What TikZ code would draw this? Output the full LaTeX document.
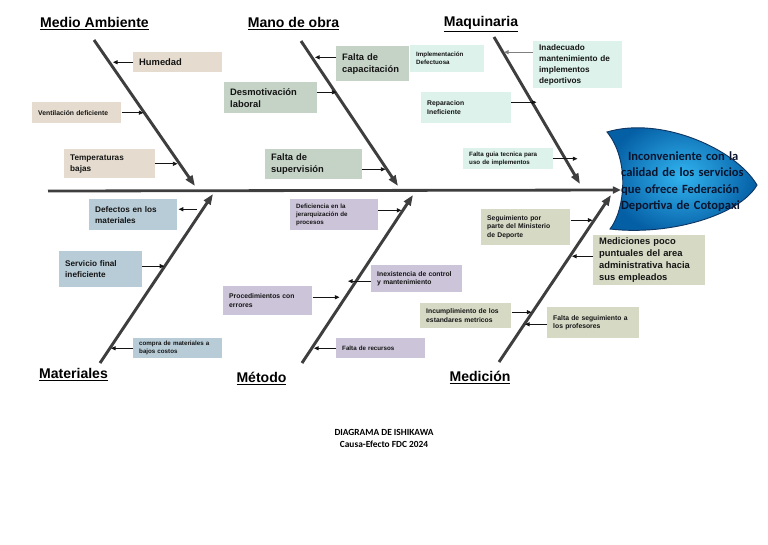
\documentclass[tikz,border=0pt]{standalone}
\usepackage{fontspec}
\setmainfont{Liberation Sans}
\newfontfamily\calibri{Carlito}
\usetikzlibrary{arrows.meta, positioning}
\definecolor{cTan}{RGB}{229,220,207}
\definecolor{cSage}{RGB}{197,211,199}
\definecolor{cMint}{RGB}{220,242,234}
\definecolor{cSteel}{RGB}{184,204,215}
\definecolor{cLav}{RGB}{204,196,216}
\definecolor{cOlive}{RGB}{214,218,197}
\definecolor{cBone}{RGB}{62,62,62}
\definecolor{cHeadIn}{RGB}{50,180,240}
\definecolor{cHeadOut}{RGB}{5,95,165}
\definecolor{cHeadRim}{RGB}{15,55,100}
\definecolor{cInk}{RGB}{20,20,20}
\definecolor{cNavy}{RGB}{10,20,45}
\tikzset{
	catlbl/.style ={font=\fontsize{12}{14}\selectfont\bfseries},
	bone/.style   ={line width=2.5pt, cBone, -{Triangle[length=9pt, width=6.5pt]}},
	spine/.style  ={line width=2.4pt, cBone, -{Triangle[length=7pt, width=6pt]}},
	cause/.style  ={rectangle, anchor=north west, inner xsep=5.1pt, inner ysep=0pt, align=left, text=cInk},
	carr/.style   ={line width=0.8pt, cInk, -{Triangle[length=4pt, width=3.5pt]}},
	carrb/.style  ={line width=0.8pt, cInk, {Triangle[length=4pt, width=3.5pt]}-},
	% text sizes of the boxes
	fb/.style     ={font=\fontsize{8}{10.2}\selectfont\bfseries},
	fm/.style     ={font=\fontsize{7}{9.2}\selectfont\bfseries},
	fs/.style     ={font=\fontsize{5.8}{7.6}\selectfont\bfseries},
	ft/.style     ={font=\fontsize{5.3}{6.8}\selectfont\bfseries},
}
\begin{document}
\begin{tikzpicture}[x=0.8536pt, y=-0.8536pt]
\useasboundingbox (0,0) rectangle (768,544);
% head of the fish
\shade[inner color=cHeadIn, outer color=cHeadOut, draw=cHeadRim, line width=0.8pt]
	(607,132) .. controls (660,116) and (735,148) .. (757,185)
	.. controls (740,215) and (670,236) .. (610,229)
	.. controls (625,210) and (630,160) .. (607,132) -- cycle;
\node[font=\calibri\fontsize{10.7}{13.9}\selectfont\bfseries, text=cNavy, text width=104pt, align=left, inner sep=0pt] (eff) at (682,181.5)
	{\makebox[104pt][r]{\makebox[98pt][s]{Inconveniente con la}}\\ \makebox[104pt][s]{calidad de los servicios}\\ \makebox[104pt][s]{que ofrece Federación}\\ \mbox{Deportiva de Cotopaxi}};
% spine and bones
\coordinate (spL) at (48,191);
\coordinate (spR) at (621,190);
\draw[spine] (spL) -- (spR);
\coordinate (maTop) at (94,40);   \coordinate (maEnd) at (195,186);
\coordinate (moTop) at (301,41);  \coordinate (moEnd) at (398,186);
\coordinate (mqTop) at (494,37);  \coordinate (mqEnd) at (580,184);
\coordinate (mtBot) at (100,363); \coordinate (mtEnd) at (213,194);
\coordinate (meBot) at (302,363); \coordinate (meEnd) at (413,195);
\coordinate (mdBot) at (499,362); \coordinate (mdEnd) at (611,195);
\foreach \a/\b in {maTop/maEnd, moTop/moEnd, mqTop/mqEnd, mtBot/mtEnd, meBot/meEnd, mdBot/mdEnd}
	\draw[bone] (\a) -- (\b);
% category titles
\node[catlbl] (tMA) at (94.5,24) {\underline{Medio Ambiente}};
\node[catlbl] (tMO) at (293.5,24) {\underline{Mano de obra}};
\node[catlbl] (tMQ) at (481,24) {\underline{Maquinaria}};
\node[catlbl] (tMT) at (73.5,375) {\underline{Materiales}};
\node[catlbl] (tME) at (261.5,379) {\underline{Método}};
\node[catlbl] (tMD) at (480,378) {\underline{Medición}};
% Medio Ambiente
\node[cause, fb, fill=cTan, text width=65.8pt, minimum height=17.1pt] (hum) at (133,52) {Humedad};
\node[cause, fs, fill=cTan, text width=65.8pt, minimum height=17.9pt] (ven) at (32,102) {Ventilación deficiente};
\node[cause, fm, fill=cTan, text width=67.5pt, minimum height=24.8pt] (tem) at (64,149) {Temperaturas\\bajas};
\draw[carr] (hum.west) -- ++(-20,0);
\draw[carr] (ven.east) -- ++(22,0);
\draw[carr] (tem.east) -- ++(22,0);
% Mano de obra
\node[cause, fb, fill=cSage, text width=52.1pt, minimum height=29.9pt] (cap) at (336,46) {Falta de\\capacitación};
\node[cause, fb, fill=cSage, text width=69.2pt, minimum height=26.5pt] (des) at (224,82) {Desmotivación\\laboral};
\node[cause, fb, fill=cSage, text width=72.6pt, minimum height=25.6pt] (sup) at (265,149) {Falta de\\supervisión};
\draw[carr] ([yshift=5.5pt]cap.west) -- ++(-21,0);
\draw[carr] ([yshift=4.7pt]des.east) -- ++(19,0);
\draw[carr] ([yshift=-4.3pt]sup.east) -- ++(23,0);
% Maquinaria
\node[cause, ft, fill=cMint, text width=53pt, minimum height=23pt] (imp) at (410,45) {Implementación\\Defectuosa};
\node[cause, fm, fill=cMint, text width=65.8pt, minimum height=40.1pt] (ina) at (533,41) {Inadecuado\\mantenimiento de\\implementos\\deportivos};
\node[cause, fs, fill=cMint, text width=66.6pt, minimum height=26.5pt] (rep) at (421,92) {Reparacion\\Ineficiente};
\node[cause, ft, fill=cMint, text width=66.6pt, minimum height=17.9pt] (gui) at (463,148) {Falta guia tecnica para\\uso de implementos};
\draw[carr, gray] ([yshift=10.7pt]ina.west) -- ++(-29,0);
\draw[carr] ([yshift=4.7pt]rep.east) -- ++(25,0);
\draw[carr] (gui.east) -- ++(24,0);
% Materiales
\node[cause, fm, fill=cSteel, text width=64.9pt, minimum height=26.5pt] (def) at (89,199) {Defectos en los\\materiales};
\node[cause, fm, fill=cSteel, text width=60.6pt, minimum height=30.7pt] (ser) at (59,251) {Servicio final\\ineficiente};
\node[cause, ft, fill=cSteel, text width=65.8pt, minimum height=17.1pt] (com) at (133,338) {compra de materiales a\\bajos costos};
\draw[carrb] ([xshift=1pt, yshift=4.7pt]def.east) -- ++(18,0);
\draw[carr] ([yshift=2.6pt]ser.east) -- ++(22,0);
\draw[carr] (com.west) -- ++(-22,0);
% Método
\node[cause, ft, fill=cLav, text width=64.9pt, minimum height=26.5pt] (jer) at (290,199) {Deficiencia en la\\jerarquización de\\procesos};
\node[cause, fs, fill=cLav, text width=67.5pt, minimum height=23pt] (inx) at (371,265) {Inexistencia de control\\y mantenimiento};
\node[cause, fs, fill=cLav, text width=65.8pt, minimum height=24.8pt] (pro) at (223,286) {Procedimientos con\\errores};
\node[cause, ft, fill=cLav, text width=65.8pt, minimum height=17.1pt] (rec) at (336,338) {Falta de recursos};
\draw[carr] ([yshift=3.8pt]jer.east) -- ++(23,0);
\draw[carr] ([yshift=-2.1pt]inx.west) -- ++(-23,0);
\draw[carr] ([yshift=3pt]pro.east) -- ++(27,0);
\draw[carr] (rec.west) -- ++(-22,0);
% Medición
\node[cause, fs, fill=cOlive, text width=65.8pt, minimum height=30.7pt] (seg) at (481,209) {Seguimiento por\\parte del Ministerio\\de Deporte};
\node[cause, fb, fill=cOlive, text width=85.4pt, minimum height=42.7pt] (med) at (593,235) {Mediciones poco\\puntuales del area\\administrativa hacia\\sus empleados};
\node[cause, fs, fill=cOlive, text width=67.5pt, minimum height=21.3pt] (inc) at (420,303) {Incumplimiento de los\\estandares metricos};
\node[cause, fs, fill=cOlive, text width=68.3pt, minimum height=26.5pt] (fal) at (547,307) {Falta de seguimiento a\\los profesores};
\draw[carr] ([yshift=6pt]seg.east) -- ++(22,0);
\draw[carr] ([yshift=3.4pt]med.west) -- ++(-21,0);
\draw[carr] ([yshift=3pt]inc.east) -- ++(20,0);
\draw[carr] ([yshift=-1.3pt]fal.west) -- ++(-22,0);
% caption
\node[font=\calibri\fontsize{8}{10.2}\selectfont\bfseries, align=center] (cap1) at (384,438) {DIAGRAMA DE ISHIKAWA\\Causa-Efecto FDC 2024};
\end{tikzpicture}
\end{document}
